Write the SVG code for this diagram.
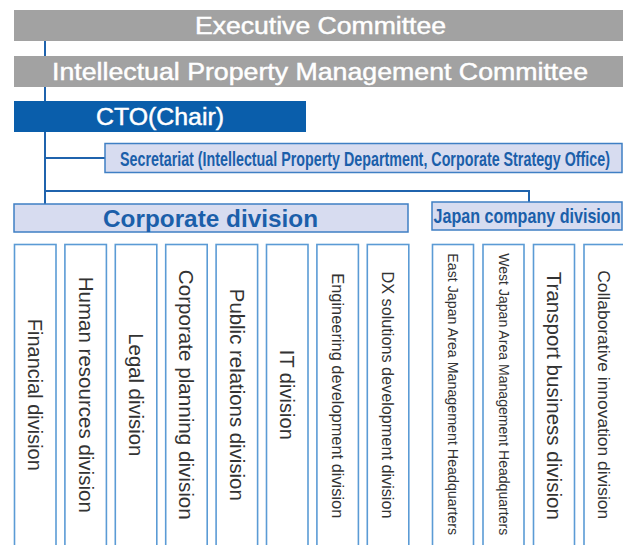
<svg xmlns="http://www.w3.org/2000/svg" width="623" height="545" viewBox="0 0 623 545">
<style>
.grey{fill:#a2a2a2}
.hdr{font-family:"Liberation Sans",Arial,sans-serif;font-size:23.5px;fill:#ffffff;stroke:#ffffff;stroke-width:0.45;text-anchor:middle}
.lite{fill:#d7dcf0;stroke:#3f7fc4;stroke-width:1.5}
.cond{font-family:"Liberation Sans",Arial,sans-serif;font-weight:bold;font-size:20px;fill:#1b5faa}
.bold{font-family:"Liberation Sans",Arial,sans-serif;font-weight:bold;font-size:24px;fill:#1b5faa;text-anchor:middle}
.unit{fill:#ffffff;stroke:#5b9bd5;stroke-width:1.6}
.vt{font-family:"Liberation Sans",Arial,sans-serif;font-size:20px;fill:#333333;text-anchor:middle}
.ln{fill:none;stroke:#1f63ad;stroke-width:2}
</style>
<g id="connectors">
<path class="ln" d="M45,41V56M45,87V101M45,132V204M45,158H105M45,191H529V202"/>
</g>
<g id="executive-committee">
<rect class="grey" x="14" y="10" width="610" height="31"/>
<text class="hdr" x="320.5" y="34.2" textLength="251" lengthAdjust="spacingAndGlyphs">Executive Committee</text>
</g>
<g id="ip-management-committee">
<rect class="grey" x="14" y="56" width="610" height="31"/>
<text class="hdr" x="320" y="80" textLength="536" lengthAdjust="spacingAndGlyphs">Intellectual Property Management Committee</text>
</g>
<g id="cto">
<rect x="14" y="101" width="292" height="31" fill="#0a5eab"/>
<text class="hdr" x="160" y="125" textLength="128" lengthAdjust="spacingAndGlyphs">CTO(Chair)</text>
</g>
<g id="secretariat">
<rect class="lite" x="105" y="143.5" width="517" height="29"/>
<text class="cond" transform="translate(120,165.5) scale(0.7146,1)" textLength="685.7" lengthAdjust="spacingAndGlyphs">Secretariat (Intellectual Property Department, Corporate Strategy Office)</text>
</g>
<g id="corporate-division">
<rect class="lite" x="14" y="204" width="394" height="28"/>
<text class="bold" x="210.5" y="226.5" textLength="215" lengthAdjust="spacingAndGlyphs">Corporate division</text>
</g>
<g id="japan-company-division">
<rect class="lite" x="432" y="202" width="190" height="28"/>
<text class="cond" transform="translate(433.5,222.7) scale(0.805,1)" textLength="232.3" lengthAdjust="spacingAndGlyphs">Japan company division</text>
</g>
<g id="financial-division">
<rect class="unit" x="14.5" y="244.5" width="41.5" height="305"/>
<text class="vt" transform="translate(35.2,394.8) rotate(90)" y="7" textLength="152" lengthAdjust="spacingAndGlyphs">Financial division</text>
</g>
<g id="human-resources-division">
<rect class="unit" x="64.9" y="244.5" width="41.5" height="305"/>
<text class="vt" transform="translate(85.6,394.8) rotate(90)" y="7" textLength="236" lengthAdjust="spacingAndGlyphs">Human resources division</text>
</g>
<g id="legal-division">
<rect class="unit" x="115.3" y="244.5" width="41.5" height="305"/>
<text class="vt" transform="translate(136,394.8) rotate(90)" y="7" textLength="123" lengthAdjust="spacingAndGlyphs">Legal division</text>
</g>
<g id="corporate-planning-division">
<rect class="unit" x="165.7" y="244.5" width="41.5" height="305"/>
<text class="vt" transform="translate(186.4,394.8) rotate(90)" y="7" textLength="250" lengthAdjust="spacingAndGlyphs">Corporate planning division</text>
</g>
<g id="public-relations-division">
<rect class="unit" x="216.1" y="244.5" width="41.5" height="305"/>
<text class="vt" transform="translate(236.8,394.8) rotate(90)" y="7" textLength="212" lengthAdjust="spacingAndGlyphs">Public relations division</text>
</g>
<g id="it-division">
<rect class="unit" x="266.5" y="244.5" width="41.5" height="305"/>
<text class="vt" transform="translate(287.2,394.8) rotate(90)" y="7" textLength="90" lengthAdjust="spacingAndGlyphs">IT division</text>
</g>
<g id="engineering-development-division">
<rect class="unit" x="316.9" y="244.5" width="41.5" height="305"/>
<text class="vt" style="font-size:16.4px" transform="translate(337.6,395.8) rotate(90)" y="5.8" textLength="245" lengthAdjust="spacingAndGlyphs">Engineering development division</text>
</g>
<g id="dx-solutions-development-division">
<rect class="unit" x="367.3" y="244.5" width="41.5" height="305"/>
<text class="vt" style="font-size:16.4px" transform="translate(388,395) rotate(90)" y="5.8" textLength="247" lengthAdjust="spacingAndGlyphs">DX solutions development division</text>
</g>
<g id="east-japan-area-management-headquarters">
<rect class="unit" x="432.5" y="244.5" width="41" height="305"/>
<text class="vt" style="font-size:14px" transform="translate(453,394.2) rotate(90)" y="5" textLength="282" lengthAdjust="spacingAndGlyphs">East Japan Area Management Headquarters</text>
</g>
<g id="west-japan-area-management-headquarters">
<rect class="unit" x="483" y="244.5" width="41" height="305"/>
<text class="vt" style="font-size:14px" transform="translate(503.5,394.2) rotate(90)" y="5" textLength="282" lengthAdjust="spacingAndGlyphs">West Japan Area Management Headquarters</text>
</g>
<g id="transport-business-division">
<rect class="unit" x="533.5" y="244.5" width="41" height="305"/>
<text class="vt" transform="translate(554,395.8) rotate(90)" y="7" textLength="248" lengthAdjust="spacingAndGlyphs">Transport business division</text>
</g>
<g id="collaborative-innovation-division">
<rect class="unit" x="584" y="244.5" width="45" height="305"/>
<text class="vt" style="font-size:17.4px" transform="translate(604.5,394.7) rotate(90)" y="6.2" textLength="249" lengthAdjust="spacingAndGlyphs">Collaborative innovation division</text>
</g>
</svg>
